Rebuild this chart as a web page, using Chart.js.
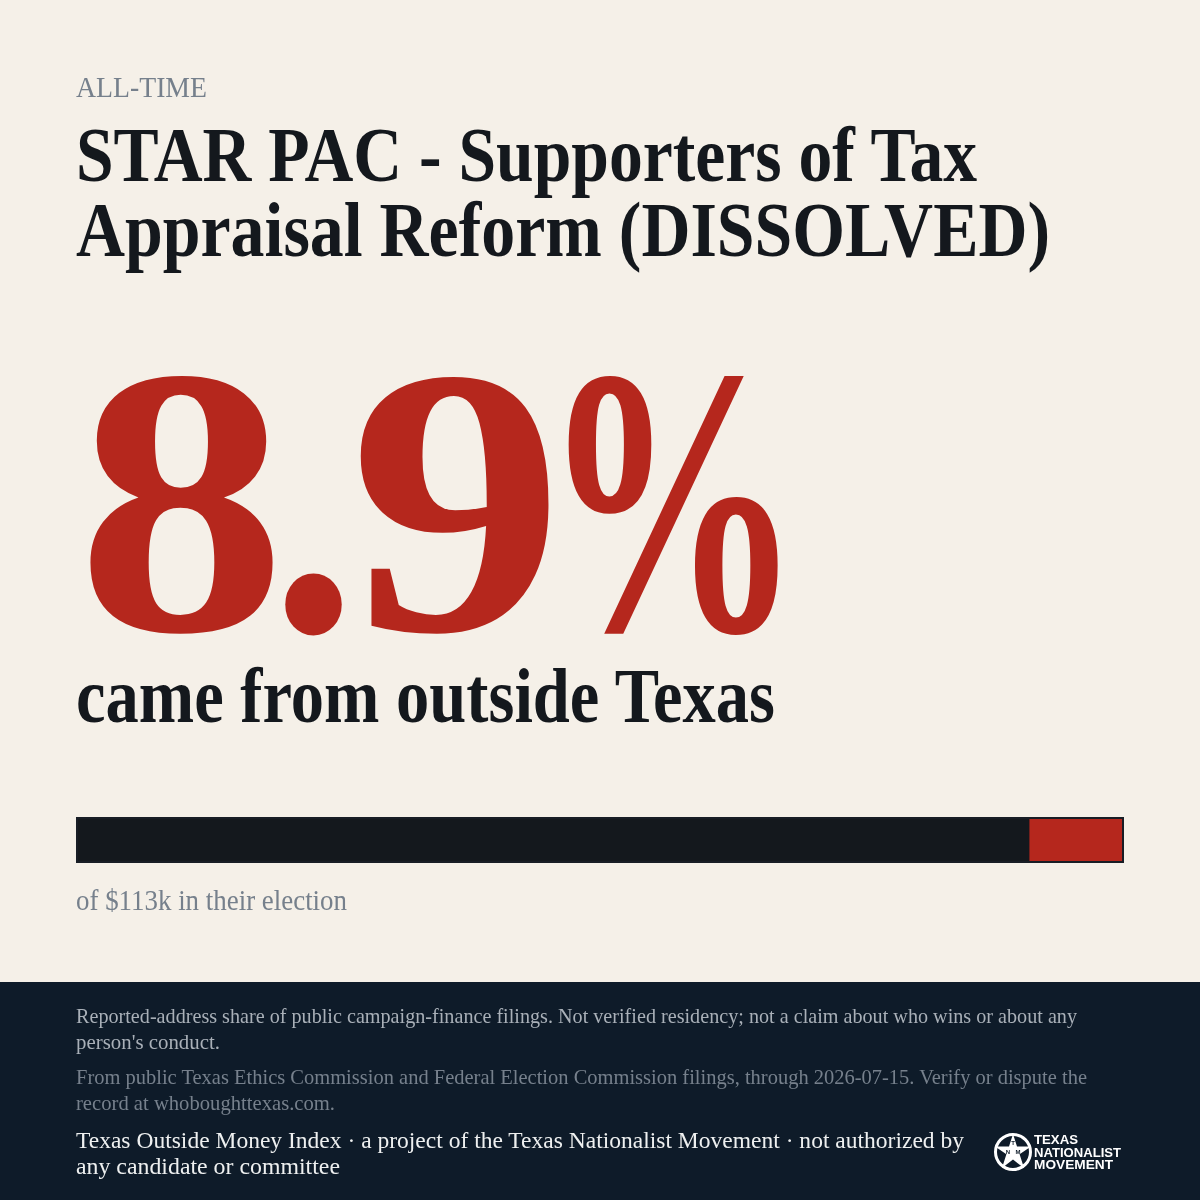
<!DOCTYPE html>
<html>
<head>
<meta charset="utf-8">
<script src="https://cdn.jsdelivr.net/npm/chart.js@4"></script>
<style>
  html, body { margin: 0; padding: 0; background: #f5f0e8; }
  #page { position: relative; width: 1200px; height: 1200px; overflow: hidden; }
  #band { position: absolute; left: 0; top: 982px; width: 1200px; height: 218px; background: #0e1b29; }
  #art { position: absolute; left: 0; top: 0; }
  #art text { font-family: "Liberation Serif", serif; }
  #art .logo { font-family: "Liberation Sans", sans-serif; font-weight: 700; fill: #fff; font-size: 13px; }
  #art .mark { font-family: "Liberation Sans", sans-serif; font-weight: 700; fill: #0e1b29; font-size: 6px; }
  #barBox { position: absolute; left: 76px; top: 817px; width: 1044px; height: 42px; border: 2px solid #181d25; background: #14181d; }
  #bar { display: block; }
</style>
</head>
<body>
<div id="page">
  <div id="band"></div>
  <div id="barBox"><canvas id="bar" width="1044" height="42"></canvas></div>
  <svg id="art" width="1200" height="1200" xmlns="http://www.w3.org/2000/svg">
    <text x="76" y="97" font-size="30" fill="#76808c" textLength="131" lengthAdjust="spacingAndGlyphs">ALL-TIME</text>
    <text x="76" y="181" font-size="78" font-weight="700" fill="#14181d" textLength="901" lengthAdjust="spacingAndGlyphs">STAR PAC - Supporters of Tax</text>
    <text x="76" y="256" font-size="78" font-weight="700" fill="#14181d" textLength="974" lengthAdjust="spacingAndGlyphs">Appraisal Reform (DISSOLVED)</text>
    <text y="630" font-size="382" font-weight="700" fill="#b5271d"><tspan x="76.5" textLength="210" lengthAdjust="spacingAndGlyphs">8</tspan><tspan x="270" textLength="87" lengthAdjust="spacingAndGlyphs">.</tspan><tspan x="349" textLength="215" lengthAdjust="spacingAndGlyphs">9</tspan><tspan x="542" textLength="260" lengthAdjust="spacingAndGlyphs">%</tspan></text>
    <text x="76" y="722" font-size="78" font-weight="700" fill="#14181d" textLength="699" lengthAdjust="spacingAndGlyphs">came from outside Texas</text>
    <text x="76" y="910" font-size="30" fill="#76808c" textLength="271" lengthAdjust="spacingAndGlyphs">of $113k in their election</text>
    <text x="76" y="1023" font-size="22" fill="#a9b0b8" textLength="1001" lengthAdjust="spacingAndGlyphs">Reported-address share of public campaign-finance filings. Not verified residency; not a claim about who wins or about any</text>
    <text x="76" y="1049" font-size="22" fill="#a9b0b8" textLength="144" lengthAdjust="spacingAndGlyphs">person's conduct.</text>
    <text x="76" y="1084" font-size="22" fill="#76808c" textLength="1011" lengthAdjust="spacingAndGlyphs">From public Texas Ethics Commission and Federal Election Commission filings, through 2026-07-15. Verify or dispute the</text>
    <text x="76" y="1110" font-size="22" fill="#76808c" textLength="259" lengthAdjust="spacingAndGlyphs">record at whoboughttexas.com.</text>
    <text x="76" y="1148" font-size="23" fill="#eef0f0" textLength="888" lengthAdjust="spacingAndGlyphs">Texas Outside Money Index · a project of the Texas Nationalist Movement · not authorized by</text>
    <text x="76" y="1174" font-size="23" fill="#eef0f0" textLength="264" lengthAdjust="spacingAndGlyphs">any candidate or committee</text>
    <circle cx="1013" cy="1152" r="17.5" fill="none" stroke="#fff" stroke-width="3"/>
    <polygon fill="#fff" points="1013,1134 1017,1146.5 1031,1146.5 1019.6,1154.2 1024,1168 1013,1159.6 1002,1168 1006.4,1154.2 995,1146.5 1009,1146.5"/>
    <text class="mark" x="1013" y="1145" text-anchor="middle">T</text>
    <text class="mark" x="1008" y="1154" text-anchor="middle">N</text>
    <text class="mark" x="1018" y="1154" text-anchor="middle">M</text>
    <text class="logo" x="1034" y="1144" textLength="44" lengthAdjust="spacingAndGlyphs">TEXAS</text>
    <text class="logo" x="1034" y="1157" textLength="87" lengthAdjust="spacingAndGlyphs">NATIONALIST</text>
    <text class="logo" x="1034" y="1169" textLength="79" lengthAdjust="spacingAndGlyphs">MOVEMENT</text>
  </svg>
</div>
<script>
var categories = ['Share of money'];
var insideShare = [91.1];
var outsideShare = [8.9];

new Chart(document.getElementById('bar'), {
  type: 'bar',
  data: {
    labels: categories,
    datasets: [
      { label: 'Inside Texas', data: insideShare, backgroundColor: '#14181d', borderWidth: 0, categoryPercentage: 1, barPercentage: 1 },
      { label: 'Outside Texas', data: outsideShare, backgroundColor: '#b5271d', borderWidth: 0, categoryPercentage: 1, barPercentage: 1 }
    ]
  },
  options: {
    indexAxis: 'y',
    responsive: false,
    animation: false,
    layout: { padding: 0 },
    plugins: { legend: { display: false }, tooltip: { enabled: false } },
    scales: {
      x: { stacked: true, display: false, min: 0, max: 100 },
      y: { stacked: true, display: false }
    }
  }
});
</script>
</body>
</html>
